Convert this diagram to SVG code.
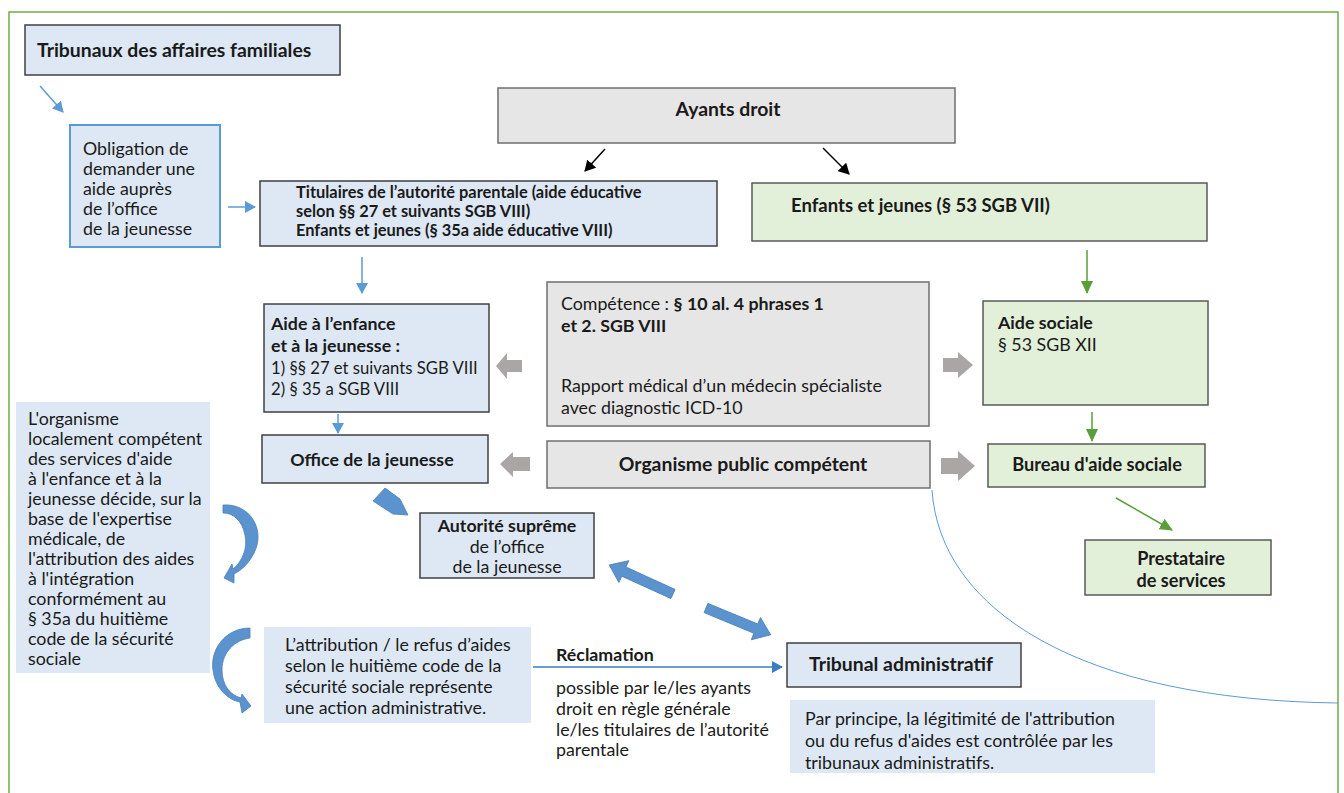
<svg xmlns="http://www.w3.org/2000/svg" width="1344" height="793" viewBox="0 0 1344 793">
<style>
text{font-family:Lato,"Open Sans","Liberation Sans",sans-serif;fill:#1a1a1a;font-size:17.8px}
.b{font-weight:bold}
.bl{fill:#dde8f4}
.gr{fill:#e6e6e6;stroke:#6f6f6f;stroke-width:1.5}
.gn{fill:#e2efd9;stroke:#595959;stroke-width:1.5}
.bs{fill:#dde8f4;stroke:#404040;stroke-width:1.5}
.c{text-anchor:middle}
.ga{fill:#aaa6a6}
.ba{fill:#5b93cf;stroke:#4a7fb8;stroke-width:0.8}
.big{font-size:19.4px}
</style>
<defs>
<marker id="mb" markerWidth="12" markerHeight="12" refX="10" refY="6" orient="auto" markerUnits="userSpaceOnUse"><path d="M0,0 L11,6 L0,12 Z" fill="#5b9bd5"/></marker>
<marker id="mb2" markerWidth="12" markerHeight="12" refX="10" refY="6" orient="auto" markerUnits="userSpaceOnUse"><path d="M0,0 L11,6 L0,12 Z" fill="#3b7dc4"/></marker>
<marker id="mg" markerWidth="14" markerHeight="12" refX="12" refY="6" orient="auto" markerUnits="userSpaceOnUse"><path d="M0,0 L13,6 L0,12 Z" fill="#5a9e3a"/></marker>
<marker id="mk" markerWidth="12" markerHeight="12" refX="10" refY="6" orient="auto" markerUnits="userSpaceOnUse"><path d="M0,0 L11,6 L0,12 Z" fill="#000"/></marker>
<polygon id="blk" points="0,-5 54,-5 54,-12 70,0 54,12 54,5 0,5"/>
</defs>
<rect width="1344" height="793" fill="#fff"/>
<path d="M9,793 V12 H1338 V793" fill="none" stroke="#70ad47" stroke-width="1.5"/>

<g id="tribunaux-familiales"><rect class="bs" x="25" y="25" width="315" height="50"/><text class="b big" x="37" y="57">Tribunaux des affaires familiales</text></g>

<g id="obligation"><rect x="70" y="125" width="150" height="122" fill="#dde8f4" stroke="#5b9bd5" stroke-width="2"/>
<text x="83"><tspan x="83" y="155">Obligation de</tspan><tspan x="83" y="175">demander une</tspan><tspan x="83" y="195">aide auprès</tspan><tspan x="83" y="215">de l’office</tspan><tspan x="83" y="235">de la jeunesse</tspan></text></g>

<g id="ayants-droit"><rect class="gr" x="498" y="88" width="457" height="55"/><text class="b c big" x="728" y="116">Ayants droit</text></g>

<g id="titulaires"><rect class="bs" x="260" y="181" width="457" height="65"/>
<text class="b" style="font-size:16.4px"><tspan x="296" y="198">Titulaires de l’autorité parentale (aide éducative</tspan><tspan x="296" y="217">selon §§ 27 et suivants SGB VIII)</tspan><tspan x="296" y="236">Enfants et jeunes (§ 35a aide éducative VIII)</tspan></text></g>

<g id="enfants-jeunes"><rect class="gn" x="752" y="183" width="455" height="58"/><text class="b" x="791" y="212" style="font-size:18.5px">Enfants et jeunes (§ 53 SGB VII)</text></g>

<g id="aide-enfance"><rect class="bs" x="264" y="304" width="225" height="108"/>
<text><tspan class="b" x="271" y="330">Aide à l’enfance</tspan><tspan class="b" x="271" y="352">et à la jeunesse :</tspan><tspan x="271" y="374" style="font-size:16.7px">1) §§ 27 et suivants SGB VIII</tspan><tspan x="271" y="395" style="font-size:16.7px">2) § 35 a SGB VIII</tspan></text></g>

<g id="competence"><rect class="gr" x="547" y="282" width="382" height="144"/>
<text><tspan x="561" y="310">Compétence : </tspan><tspan class="b">§ 10 al. 4 phrases 1</tspan><tspan class="b" x="561" y="332">et 2. SGB VIII</tspan><tspan x="561" y="392">Rapport médical d’un médecin spécialiste</tspan><tspan x="561" y="414">avec diagnostic ICD-10</tspan></text></g>

<g id="aide-sociale"><rect class="gn" x="983" y="301" width="225" height="104"/>
<text><tspan class="b" x="998" y="329">Aide sociale</tspan><tspan x="998" y="351">§ 53 SGB XII</tspan></text></g>

<g id="office"><rect class="bs" x="262" y="435" width="226" height="48"/><text class="b c" x="372" y="466">Office de la jeunesse</text></g>

<g id="organisme"><rect class="gr" x="547" y="441" width="383" height="47"/><text class="b c big" x="743" y="471">Organisme public compétent</text></g>

<g id="bureau"><rect class="gn" x="988" y="444" width="217" height="43"/><text class="b c" x="1097" y="471" style="font-size:18.2px">Bureau d'aide sociale</text></g>

<g id="prestataire"><rect class="gn" x="1085" y="540" width="186" height="55"/><text class="b c" style="font-size:18.1px"><tspan x="1181" y="565">Prestataire</tspan><tspan x="1181" y="587">de services</tspan></text></g>

<g id="organisme-local"><rect class="bl" x="16" y="402" width="194" height="271"/>
<text><tspan x="28" y="425">L'organisme</tspan><tspan x="28" y="445">localement compétent</tspan><tspan x="28" y="465">des services d'aide</tspan><tspan x="28" y="485">à l'enfance et à la</tspan><tspan x="28" y="505">jeunesse décide, sur la</tspan><tspan x="28" y="525">base de l'expertise</tspan><tspan x="28" y="545">médicale, de</tspan><tspan x="28" y="565">l'attribution des aides</tspan><tspan x="28" y="585">à l'intégration</tspan><tspan x="28" y="605">conformément au</tspan><tspan x="28" y="625">§ 35a du huitième</tspan><tspan x="28" y="645">code de la sécurité</tspan><tspan x="28" y="665">sociale</tspan></text></g>

<g id="autorite"><rect class="bs" x="420" y="513" width="174" height="65"/>
<text class="c"><tspan class="b" x="507" y="532">Autorité suprême</tspan><tspan x="507" y="553">de l’office</tspan><tspan x="507" y="573">de la jeunesse</tspan></text></g>

<g id="attribution"><rect class="bl" x="264" y="627" width="267" height="96"/>
<text><tspan x="285" y="651">L’attribution / le refus d’aides</tspan><tspan x="285" y="672">selon le huitième code de la</tspan><tspan x="285" y="693">sécurité sociale représente</tspan><tspan x="285" y="714">une action administrative.</tspan></text></g>

<g id="tribunal-admin"><rect class="bs" x="787" y="643" width="234" height="44"/><text class="b big" x="809" y="671">Tribunal administratif</text></g>

<g id="par-principe"><rect class="bl" x="790" y="700" width="365" height="73"/>
<text><tspan x="805" y="725">Par principe, la légitimité de l'attribution</tspan><tspan x="805" y="747">ou du refus d'aides est contrôlée par les</tspan><tspan x="805" y="769">tribunaux administratifs.</tspan></text></g>

<g id="reclamation-label"><text><tspan class="b" x="556" y="661">Réclamation</tspan><tspan x="556" y="694">possible par le/les ayants</tspan><tspan x="556" y="715">droit en règle générale</tspan><tspan x="556" y="736">le/les titulaires de l’autorité</tspan><tspan x="556" y="756">parentale</tspan></text></g>

<g id="connectors">
<line x1="40" y1="86" x2="63" y2="112" stroke="#5b9bd5" stroke-width="1.5" marker-end="url(#mb)"/>
<line x1="228" y1="207" x2="255" y2="207" stroke="#5b9bd5" stroke-width="1.5" marker-end="url(#mb)"/>
<line x1="362" y1="257" x2="362" y2="293" stroke="#5b9bd5" stroke-width="1.5" marker-end="url(#mb)"/>
<line x1="338" y1="414" x2="338" y2="433" stroke="#5b9bd5" stroke-width="1.5" marker-end="url(#mb)"/>
<line x1="605" y1="149" x2="585" y2="171" stroke="#000" stroke-width="1.5" marker-end="url(#mk)"/>
<line x1="823" y1="148" x2="849" y2="174" stroke="#000" stroke-width="1.5" marker-end="url(#mk)"/>
<line x1="1087" y1="250" x2="1087" y2="293" stroke="#5a9e3a" stroke-width="1.5" marker-end="url(#mg)"/>
<line x1="1092" y1="412" x2="1092" y2="441" stroke="#5a9e3a" stroke-width="1.5" marker-end="url(#mg)"/>
<line x1="1116" y1="498" x2="1172" y2="530" stroke="#5a9e3a" stroke-width="1.5" marker-end="url(#mg)"/>
<line x1="533" y1="667" x2="782" y2="667" stroke="#3b7dc4" stroke-width="1.5" marker-end="url(#mb2)"/>
<path d="M932,490 C940,610 1080,700 1338,703" fill="none" stroke="#5b9bd5" stroke-width="1"/>
<polygon class="ga" points="496,366 507,353 507,360 522,360 522,372 507,372 507,379"/>
<polygon class="ga" points="500,464 513,452 513,457 530,457 530,471 513,471 513,477"/>
<polygon class="ga" points="973,365 958,352 958,358 943,358 943,372 958,372 958,378"/>
<polygon class="ga" points="975,466 958,451 958,458 941,458 941,474 958,474 958,481"/>
<polygon class="ba" points="373,501 385,488 400,499 408,515 393,514"/>
<use href="#blk" class="ba" transform="translate(673,594) rotate(204.5)"/>
<use href="#blk" class="ba" transform="translate(706,608) rotate(22.5)"/>
<path class="ba" d="M223,505 C250,503 266,530 254,553 C249,563 242,570 234,574 L234,583 L224,578 L232,564 L233,569 C242,562 248,548 245,535 C242,520 233,513 223,513 Z"/>
<path class="ba" d="M250,628 C225,628 210,650 213,670 C215,688 228,700 240,702 L242,713 L251,706 L242,694 L241,698 C230,695 222,685 222,670 C222,652 235,640 250,638 Z"/>
</g>
</svg>
